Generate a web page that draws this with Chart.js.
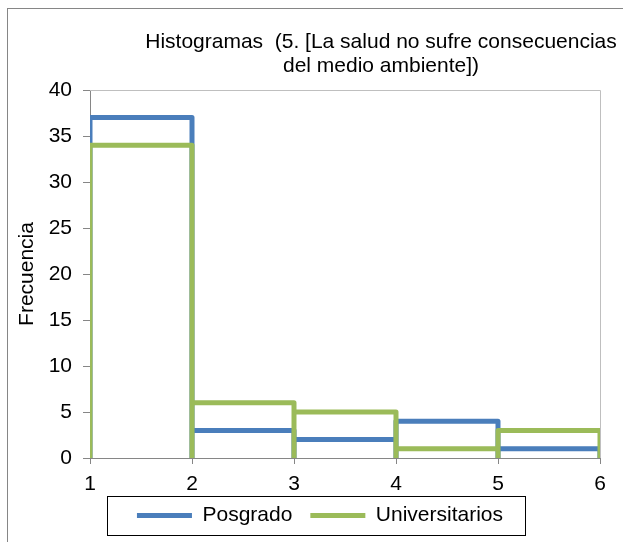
<!DOCTYPE html>
<html>
<head>
<meta charset="utf-8">
<script src="https://cdn.jsdelivr.net/npm/chart.js@4.4.0/dist/chart.umd.min.js"></script>
<style>
html, body { margin: 0; padding: 0; background: #fff; }
#wrap { width: 623px; height: 542px; position: relative; }
</style>
</head>
<body>
<div id="wrap"><canvas id="histChart"></canvas></div>
<script>
// bin edges (x axis) and counts per bin
const binEdges = [1, 2, 3, 4, 5, 6];
const posgradoCounts = [37, 3, 2, 4, 1];
const universitariosCounts = [34, 6, 5, 1, 3];
const seriesNames = ['Posgrado', 'Universitarios'];
const titleLines = ['Histogramas  (5. [La salud no sufre consecuencias', 'del medio ambiente])'];
const yAxisTitle = 'Frecuencia';

const FONT = "'Liberation Sans', Arial, sans-serif";
const FONT_SIZE = 21;
Chart.defaults.font.family = FONT;
Chart.defaults.color = '#000';

// each bin as an open rectangle (no bottom edge), null breaks the line
function binOutline(counts) {
    const pts = [];
    counts.forEach((c, i) => {
        pts.push({ x: binEdges[i], y: 0 });
        pts.push({ x: binEdges[i], y: c });
        pts.push({ x: binEdges[i + 1], y: c });
        pts.push({ x: binEdges[i + 1], y: 0 });
        pts.push({ x: binEdges[i + 1], y: null });
    });
    return pts;
}

const frames = {
    id: 'frames',
    afterLayout(chart) {
        // legend sits a bit right of the canvas centre and slightly higher in the original
        chart.legend.left += 20;
        chart.legend.right += 20;
        chart.legend.top -= 6;
        chart.legend.bottom -= 6;
    },
    beforeDatasetsDraw(chart) {
        const { ctx, chartArea: a } = chart;
        ctx.save();
        ctx.strokeStyle = '#BFBFBF';
        ctx.lineWidth = 1;
        ctx.beginPath();
        ctx.moveTo(a.left, Math.round(a.top) + 0.5);
        ctx.lineTo(Math.round(a.right) + 0.5, Math.round(a.top) + 0.5);
        ctx.lineTo(Math.round(a.right) + 0.5, a.bottom);
        ctx.stroke();
        ctx.restore();
    },
    afterDraw(chart) {
        const ctx = chart.ctx;
        ctx.save();
        // outer chart border (runs past the window on the right/bottom)
        ctx.strokeStyle = '#868686';
        ctx.lineWidth = 1;
        ctx.strokeRect(7.5, 8.5, 800, 800);

        // title
        ctx.fillStyle = '#000';
        ctx.font = FONT_SIZE + 'px ' + FONT;
        ctx.textAlign = 'center';
        ctx.textBaseline = 'middle';
        ctx.fillText(titleLines[0], 381, 42);
        ctx.fillText(titleLines[1], 381, 66);

        // legend frame
        const boxes = chart.legend.legendHitBoxes;
        if (boxes && boxes.length) {
            const first = boxes[0], last = boxes[boxes.length - 1];
            const x0 = Math.round(first.left) - 30 + 0.5;
            const x1 = Math.round(last.left + last.width) + 22 + 0.5;
            const cy = first.top + first.height / 2;
            ctx.strokeStyle = '#000';
            ctx.strokeRect(x0, Math.round(cy - 20) + 0.5, x1 - x0, 39);
        }
        ctx.restore();
    }
};

const ctx = document.getElementById('histChart').getContext('2d');
new Chart(ctx, {
    type: 'line',
    data: {
        datasets: [{
            label: seriesNames[0],
            data: binOutline(posgradoCounts),
            borderColor: '#4A7EBB',
            backgroundColor: '#4A7EBB',
            borderWidth: 5,
            borderJoinStyle: 'round',
            pointRadius: 0,
            pointStyle: 'line',
            spanGaps: false,
            order: 2
        }, {
            label: seriesNames[1],
            data: binOutline(universitariosCounts),
            borderColor: '#9BBB59',
            backgroundColor: '#9BBB59',
            borderWidth: 5,
            borderJoinStyle: 'round',
            pointRadius: 0,
            pointStyle: 'line',
            spanGaps: false,
            order: 1
        }]
    },
    options: {
        responsive: true,
        maintainAspectRatio: false,
        animation: false,
        layout: {
            padding: { left: 0, top: 90, right: 23, bottom: 0 }
        },
        plugins: {
            legend: {
                position: 'bottom',
                labels: {
                    usePointStyle: true,
                    pointStyle: 'line',
                    pointStyleWidth: 55,
                    padding: 18,
                    color: '#000',
                    font: { size: FONT_SIZE },
                    sort: (a, b) => a.datasetIndex - b.datasetIndex
                }
            },
            tooltip: { enabled: false }
        },
        scales: {
            x: {
                type: 'linear',
                min: 1,
                max: 6,
                afterFit(scale) { scale.height = 35; },
                grid: {
                    drawOnChartArea: false,
                    tickLength: 6,
                    color: '#868686'
                },
                border: { color: '#868686', width: 1 },
                ticks: {
                    stepSize: 1,
                    padding: 8,
                    color: '#000',
                    font: { size: FONT_SIZE }
                }
            },
            y: {
                min: 0,
                max: 40,
                afterFit(scale) { scale.width = 90; },
                grid: {
                    drawOnChartArea: false,
                    tickLength: 7,
                    color: '#868686'
                },
                border: { color: '#868686', width: 1 },
                ticks: {
                    stepSize: 5,
                    padding: 11,
                    color: '#000',
                    font: { size: FONT_SIZE }
                },
                title: {
                    display: true,
                    text: yAxisTitle,
                    color: '#000',
                    font: { size: FONT_SIZE },
                    padding: { top: 15, bottom: 0 }
                }
            }
        }
    },
    plugins: [frames]
});
</script>
</body>
</html>
